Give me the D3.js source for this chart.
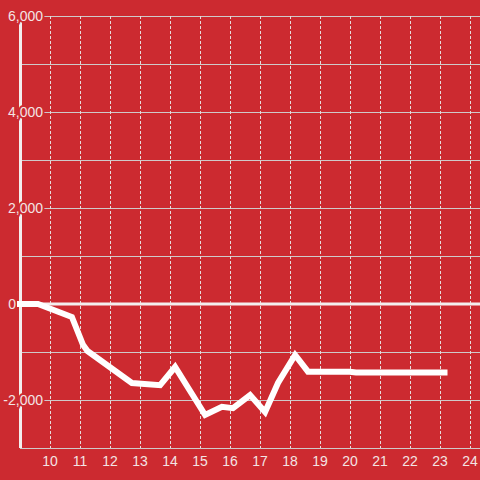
<!DOCTYPE html>
<html>
<head>
<meta charset="utf-8">
<script src="https://cdn.jsdelivr.net/npm/d3@7"></script>
<style>
  html, body { margin: 0; padding: 0; background: #cc2a30; }
  svg { display: block; }
</style>
</head>
<body>
<svg id="chart" width="480" height="480"></svg>
<script>
// data
const hours = [8.9, 9.6, 10.73, 11.1, 11.25, 12.73, 13.67, 14.17, 15.17, 15.73, 16.1, 16.67, 17.17, 17.6, 18.17, 18.6, 20.0, 20.2, 23.25];
const values = [0, 0, -270, -850, -980, -1646, -1690, -1312, -2312, -2140, -2170, -1896, -2250, -1646, -1062, -1410, -1410, -1425, -1425];
const xTicks = [10, 11, 12, 13, 14, 15, 16, 17, 18, 19, 20, 21, 22, 23, 24];
const yGrid = [-3000, -2000, -1000, 1000, 2000, 3000, 4000, 5000, 6000];
const yLabels = [6000, 4000, 2000, 0, -2000];

const BG = '#cc2a30';
const TEXT = '#f3e4e4';

const svg = d3.select('#chart');
const width = 480, height = 480;

const xScale = d3.scaleLinear()
    .domain([9, 24.3333])
    .range([20, 480]);

const yScale = d3.scaleLinear()
    .domain([-3000, 6000])
    .range([448, 16]);

svg.append('rect')
    .attr('width', width)
    .attr('height', height)
    .attr('fill', BG);

// horizontal grid
svg.append('g')
    .selectAll('line')
    .data(yGrid)
    .enter()
    .append('line')
    .attr('x1', xScale(9))
    .attr('x2', width)
    .attr('y1', d => Math.round(yScale(d)) + 0.5)
    .attr('y2', d => Math.round(yScale(d)) + 0.5)
    .attr('stroke', '#cfc9c9')
    .attr('stroke-width', 1);

// vertical dashed grid
svg.append('g')
    .selectAll('line')
    .data(xTicks)
    .enter()
    .append('line')
    .attr('x1', d => Math.round(xScale(d)) + 0.5)
    .attr('x2', d => Math.round(xScale(d)) + 0.5)
    .attr('y1', yScale(6000))
    .attr('y2', yScale(-3000))
    .attr('stroke', '#e6dcdc')
    .attr('stroke-width', 1)
    .attr('stroke-dasharray', '3,2');

// y axis line
svg.append('line')
    .attr('x1', 20.5)
    .attr('x2', 20.5)
    .attr('y1', yScale(6000))
    .attr('y2', yScale(-3000))
    .attr('stroke', '#f3eeee')
    .attr('stroke-width', 3);

// zero line
svg.append('line')
    .attr('x1', 17)
    .attr('x2', width)
    .attr('y1', yScale(0))
    .attr('y2', yScale(0))
    .attr('stroke', '#f3eeee')
    .attr('stroke-width', 3);

// y labels (red halo hides lines behind them)
svg.append('g')
    .selectAll('text')
    .data(yLabels)
    .enter()
    .append('text')
    .attr('x', d => d === 0 ? 16 : 43)
    .attr('y', d => yScale(d))
    .attr('dy', '0.35em')
    .attr('text-anchor', 'end')
    .attr('font-family', '"Liberation Sans", Arial, sans-serif')
    .attr('font-size', '14px')
    .attr('fill', TEXT)
    .attr('stroke', BG)
    .attr('stroke-width', 4)
    .attr('paint-order', 'stroke')
    .text(d => d3.format(',')(d).replace('−', '-'));

// x labels
svg.append('g')
    .selectAll('text')
    .data(xTicks)
    .enter()
    .append('text')
    .attr('x', d => xScale(d))
    .attr('y', 461)
    .attr('dy', '0.35em')
    .attr('text-anchor', 'middle')
    .attr('font-family', '"Liberation Sans", Arial, sans-serif')
    .attr('font-size', '14px')
    .attr('fill', TEXT)
    .text(d => d);

// data line
const line = d3.line()
    .x((d, i) => xScale(hours[i]))
    .y(d => yScale(d));

svg.append('path')
    .datum(values)
    .attr('d', line)
    .attr('fill', 'none')
    .attr('stroke', '#ffffff')
    .attr('stroke-width', 6);
</script>
</body>
</html>
